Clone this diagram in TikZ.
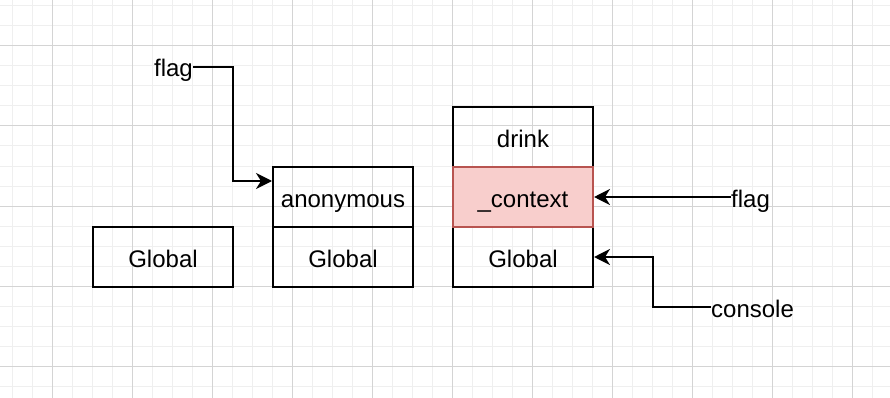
\documentclass[tikz,border=0pt]{standalone}
\usepackage{fontspec}
\setmainfont{Liberation Sans}
\usetikzlibrary{arrows.meta}

\definecolor{ctxfill}{HTML}{F8CECC}
\definecolor{ctxline}{HTML}{B85450}
\definecolor{gridminor}{HTML}{EFEFEF}
\definecolor{gridmajor}{HTML}{D4D4D4}

\begin{document}
\begin{tikzpicture}[x=1pt,y=-1pt,
  frame/.style={draw,line width=2pt,minimum width=140pt,minimum height=60pt,inner sep=0pt,
    text height=24pt,text depth=4pt,font=\fontsize{24}{28}\selectfont},
  lbl/.style={inner sep=0pt,text height=24pt,text depth=4pt,font=\fontsize{24}{28}\selectfont},
  arr/.style={line width=2pt,-{Stealth[length=16pt,width=16pt,inset=5pt]}}]

\useasboundingbox (0,0) rectangle (890,398);
\fill[white] (0,0) rectangle (890,398);

% grid
\foreach \x in {12,32,...,890} \draw[gridminor,line width=1pt] (\x,0) -- (\x,398);
\foreach \y in {6,26,...,398} \draw[gridminor,line width=1pt] (0,\y) -- (890,\y);
\foreach \x in {52,132,...,890} \draw[gridmajor,line width=1pt] (\x,0) -- (\x,398);
\foreach \y in {46,126,...,398} \draw[gridmajor,line width=1pt] (0,\y) -- (890,\y);

% scopes
\node[frame] (global) at (163,257) {Global};

\node[frame] (anon) at (343,197) {anonymous};
\node[frame] (anonglobal) at (343,257) {Global};

\node[frame] (drink) at (523,137) {drink};
\node[frame] (drinkglobal) at (523,257) {Global};
\node[frame,draw=ctxline,fill=ctxfill] (ctx) at (523,197) {\_context};

% variables
\node[lbl,anchor=east] (flagA) at (193,67) {flag};
\node[lbl,anchor=west] (flagB) at (731,197) {flag};
\node[lbl,anchor=west] (console) at (711,307) {console};

\draw[arr] (flagA.east) -- ++(40,0) |- ([yshift=-15pt]anon.north west);
\draw[arr] (flagB.west) -- (ctx.east);
\draw[arr] (console.west) -- ++(-58,0) |- (drinkglobal.east);

\end{tikzpicture}
\end{document}
